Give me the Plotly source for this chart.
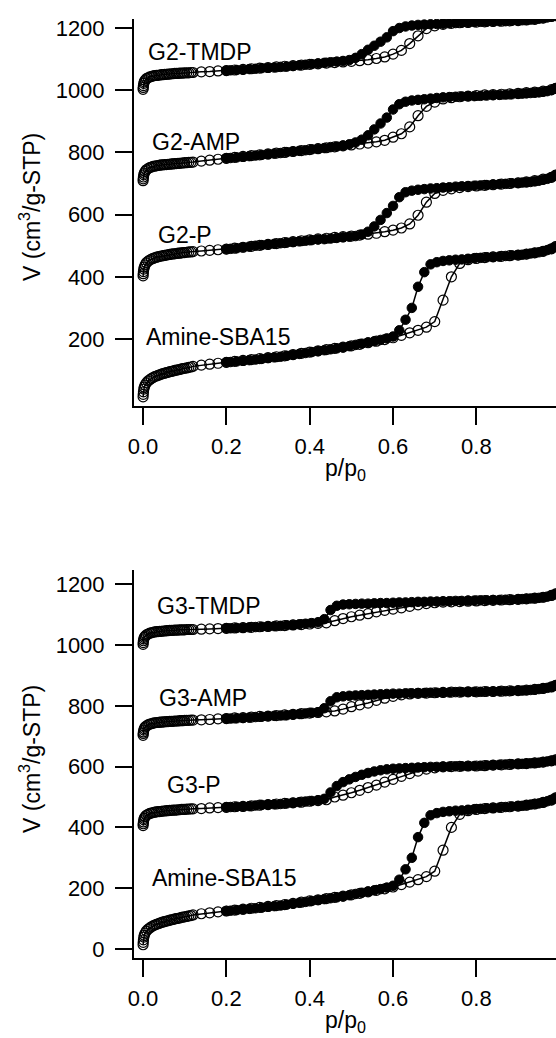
import plotly.graph_objects as go

# ---------------- data ----------------
# relative pressure grids (adsorption ascending, desorption descending)
p_ads = [0.0002, 0.0005, 0.001, 0.002, 0.003, 0.005, 0.008, 0.012, 0.016, 0.020, 0.024, 0.028, 0.032,
         0.036, 0.040, 0.044, 0.048, 0.052, 0.056, 0.060, 0.064, 0.068, 0.072, 0.076, 0.080, 0.084,
         0.088, 0.092, 0.096, 0.100, 0.105, 0.110, 0.115,
         0.12, 0.14, 0.16, 0.18, 0.20, 0.22, 0.24, 0.26, 0.28, 0.30, 0.32,
         0.34, 0.36, 0.38, 0.40, 0.42, 0.44, 0.46, 0.48, 0.50, 0.52, 0.54, 0.56, 0.58, 0.60, 0.62, 0.64,
         0.66, 0.68, 0.70, 0.72, 0.74, 0.76, 0.78, 0.80, 0.82, 0.84, 0.86, 0.88, 0.90, 0.92, 0.94, 0.96,
         0.98, 0.99]
p_des = [0.99, 0.98, 0.97, 0.96, 0.95, 0.94, 0.93, 0.92, 0.91, 0.90, 0.885, 0.87, 0.855, 0.84, 0.825,
         0.81, 0.795, 0.78, 0.765, 0.75, 0.735, 0.72, 0.705, 0.69, 0.675, 0.66, 0.645, 0.63, 0.615, 0.60,
         0.585, 0.57, 0.555, 0.54, 0.525, 0.51, 0.495, 0.48, 0.465, 0.45, 0.435, 0.42, 0.405, 0.39, 0.375,
         0.36, 0.345, 0.33, 0.315, 0.30, 0.285, 0.27, 0.255, 0.24, 0.225, 0.21, 0.20]

amine_ads = [14, 22, 30, 39, 45, 52, 59, 65, 69, 73, 76, 79, 81, 83, 85, 87, 89, 90, 92, 93, 95, 96, 97,
             99, 100, 101, 102, 104, 105, 106, 107, 109, 110,
             112, 116, 119, 122, 125, 128, 131, 134, 137, 140, 143, 146, 150, 154, 158, 162, 166, 170,
             174, 178, 183, 188, 193, 198, 204, 212, 220, 228, 238, 256, 325, 400, 443, 455, 459, 462,
             464, 466, 468, 470, 473, 477, 482, 490, 497]
amine_des = [497, 490, 486, 482, 479, 477, 475, 473, 471, 470,
             469, 467, 465, 464, 463, 461, 460, 458, 456, 455,
             453, 451, 447, 440, 415, 368, 300, 262, 228, 208,
             202, 197, 193, 189, 185, 181, 177, 173, 170, 167,
             164, 161, 158, 155, 152, 149, 146, 143, 141, 139,
             136, 134, 132, 130, 128, 126, 125]

g2p_ads = [403, 410, 417, 425, 431, 438, 445, 450, 454, 457, 459, 461, 463, 464, 466, 467, 468, 469, 470,
           471, 472, 473, 474, 474, 475, 476, 476, 477, 478, 478, 479, 480, 480,
           481, 483, 485, 487, 489, 492, 495, 498, 501, 504, 507, 510, 513, 516, 519, 522, 524, 527, 529,
           531, 534, 537, 540, 545, 550, 557, 570, 598, 640, 668, 678, 683, 687, 690, 692, 694, 696, 698,
           700, 702, 705, 709, 714, 720, 727]
g2p_des = [727, 720, 715, 712, 709, 707, 705, 704, 703, 702,
           701, 699, 698, 697, 695, 694, 693, 692, 691, 690,
           688, 687, 685, 684, 682, 680, 677, 672, 656, 628,
           605, 583, 562, 545, 536, 531, 529, 527, 525, 523,
           521, 520, 518, 516, 514, 512, 510, 508, 506, 504,
           502, 500, 497, 495, 492, 490, 489]

g2amp_ads = [709, 715, 721, 728, 733, 739, 744, 748, 751, 753, 755, 756, 757, 758, 759, 760, 760, 761, 761,
             762, 762, 763, 763, 764, 764, 765, 765, 766, 766, 767, 767, 768, 768,
             769, 772, 775, 778, 781, 784, 787, 790, 792, 795, 798, 800, 803, 806, 809, 812, 815, 818, 821,
             824, 827, 830, 834, 839, 849, 860, 882, 918, 948, 962, 972, 976, 979, 981, 983, 985, 986, 987,
             988, 990, 992, 994, 997, 1002, 1006]
g2amp_des = [1006, 1000, 997, 995, 993, 992, 991, 990, 989, 988,
             987, 986, 985, 984, 983, 982, 981, 981, 980, 979,
             978, 977, 975, 973, 971, 969, 967, 963, 955, 938,
             912, 893, 874, 855, 841, 832, 826, 822, 819, 817,
             814, 812, 810, 807, 805, 803, 801, 798, 796, 794,
             792, 790, 788, 786, 784, 782, 781]

g2tmdp_ads = [1003, 1009, 1015, 1022, 1027, 1032, 1037, 1040, 1043, 1044, 1046, 1047, 1048, 1048, 1049,
              1050, 1050, 1051, 1051, 1052, 1052, 1053, 1053, 1054, 1054, 1054, 1055, 1055, 1055, 1056,
              1056, 1056, 1057,
              1057, 1059, 1060, 1062, 1063, 1065, 1067, 1069, 1071, 1073, 1075,
              1077, 1079, 1081, 1083, 1085, 1087, 1089, 1091, 1093, 1095, 1098, 1102, 1107, 1116, 1128,
              1150, 1175, 1198, 1207, 1212, 1215, 1217, 1218, 1219, 1220, 1221, 1222, 1223, 1224, 1226,
              1228, 1232, 1237, 1240]
g2tmdp_des = [1240, 1237, 1234, 1232, 1230, 1228, 1227, 1226, 1225, 1224,
              1223, 1222, 1222, 1221, 1220, 1220, 1219, 1218, 1217, 1216,
              1215, 1214, 1213, 1212, 1211, 1210, 1208, 1205, 1200, 1190,
              1170, 1156, 1143, 1130, 1116, 1104, 1097, 1094, 1092, 1090,
              1088, 1086, 1084, 1082, 1080, 1078, 1076, 1075, 1073, 1072,
              1071, 1069, 1068, 1066, 1065, 1064, 1063]

g3p_ads = [406, 412, 418, 425, 430, 435, 440, 443, 446, 447, 449, 450, 451, 452, 452, 453, 454, 454, 455,
           455, 456, 456, 457, 457, 457, 458, 458, 459, 459, 459, 460, 460, 461,
           461, 462, 464, 465, 466, 468, 469, 471, 473, 475, 477, 479, 481, 483, 486, 488, 491, 500, 506,
           514, 522, 531, 539, 549, 558, 568, 577, 585, 592, 596, 599, 600, 601, 602, 602, 603, 605, 606,
           607, 609, 610, 612, 615, 619, 622]
g3p_des = [622, 619, 617, 615, 613, 612, 611, 610, 609, 609,
           608, 607, 606, 605, 604, 603, 602, 602, 601, 601,
           600, 600, 599, 599, 598, 597, 596, 595, 594, 593,
           591, 588, 584, 579, 573, 566, 558, 549, 536, 515,
           494, 489, 487, 485, 483, 481, 479, 477, 476, 475,
           474, 472, 470, 469, 468, 467, 466]

g3amp_ads = [703, 709, 714, 720, 725, 730, 734, 737, 740, 741, 743, 744, 745, 745, 746, 746, 747, 747, 748,
             748, 749, 749, 749, 750, 750, 750, 751, 751, 751, 752, 752, 752, 753,
             753, 754, 755, 757, 758, 760, 761, 763, 765, 766, 768, 770, 772, 774, 776, 778, 780, 783, 789,
             797, 803, 809, 818, 825, 831, 836, 839, 841, 842, 843, 844, 845, 845, 846, 846, 847, 847, 848,
             849, 850, 852, 854, 857, 862, 867]
g3amp_des = [867, 862, 859, 857, 855, 853, 852, 851, 850, 850,
             849, 848, 848, 847, 847, 846, 846, 846, 845, 845,
             844, 844, 843, 843, 842, 842, 841, 841, 840, 840,
             839, 838, 837, 836, 835, 834, 833, 831, 828, 815,
             792, 779, 777, 775, 773, 771, 769, 768, 767, 766,
             764, 763, 761, 760, 759, 758, 758]

g3tmdp_ads = [1002, 1008, 1014, 1020, 1025, 1029, 1033, 1036, 1039, 1040, 1042, 1043, 1044, 1044, 1045,
              1045, 1046, 1046, 1047, 1047, 1048, 1048, 1048, 1049, 1049, 1049, 1050, 1050, 1050, 1050,
              1051, 1051, 1051,
              1051, 1052, 1053, 1054, 1055, 1056, 1057, 1058, 1060, 1061, 1063,
              1064, 1066, 1067, 1069, 1071, 1073, 1080, 1087, 1093, 1098, 1103, 1109, 1114, 1118, 1122,
              1127, 1132, 1136, 1139, 1141, 1142, 1143, 1144, 1145, 1146, 1147, 1148, 1149, 1150, 1152,
              1154, 1157, 1163, 1168]
g3tmdp_des = [1168, 1163, 1159, 1157, 1155, 1154, 1153, 1152, 1151, 1150,
              1149, 1149, 1148, 1148, 1147, 1147, 1146, 1146, 1145, 1145,
              1144, 1144, 1143, 1143, 1142, 1142, 1141, 1140, 1140, 1139,
              1138, 1138, 1137, 1136, 1136, 1135, 1134, 1133, 1129, 1115,
              1085, 1075, 1072, 1070, 1068, 1066, 1065, 1063, 1062, 1061,
              1060, 1059, 1058, 1057, 1056, 1055, 1055]

x_ticks = [0.0, 0.2, 0.4, 0.6, 0.8]
x_ticklabels = ["0.0", "0.2", "0.4", "0.6", "0.8"]
y_ticks_top = [200, 400, 600, 800, 1000, 1200]
y_ticks_bottom = [0, 200, 400, 600, 800, 1000, 1200]

top_samples = [("Amine-SBA15", amine_ads, amine_des), ("G2-P", g2p_ads, g2p_des),
               ("G2-AMP", g2amp_ads, g2amp_des), ("G2-TMDP", g2tmdp_ads, g2tmdp_des)]
bottom_samples = [("Amine-SBA15", amine_ads, amine_des), ("G3-P", g3p_ads, g3p_des),
                  ("G3-AMP", g3amp_ads, g3amp_des), ("G3-TMDP", g3tmdp_ads, g3tmdp_des)]

# label anchor positions (p/p0, V)
top_labels = [("G2-TMDP", 0.0065, 1124), ("G2-AMP", 0.017, 834), ("G2-P", 0.031, 533),
              ("Amine-SBA15", 0.0024, 205)]
bottom_labels = [("G3-TMDP", 0.029, 1127), ("G3-AMP", 0.034, 826), ("G3-P", 0.053, 539),
                 ("Amine-SBA15", 0.0168, 235)]

# ---------------- figure ----------------
W, H = 556, 1038
ML = 134
FONT = "Liberation Sans, Arial, Helvetica, sans-serif"

fig = go.Figure()


def add_isotherm(ads, des, xa, ya):
    fig.add_trace(go.Scatter(
        x=p_ads, y=ads, mode="lines+markers", xaxis=xa, yaxis=ya,
        line=dict(color="black", width=1.5),
        marker=dict(symbol="circle-open", size=10, color="black", line=dict(width=1.2)),
        showlegend=False, hoverinfo="skip"))
    fig.add_trace(go.Scatter(
        x=p_des, y=des, mode="lines+markers", xaxis=xa, yaxis=ya,
        line=dict(color="black", width=1.5),
        marker=dict(symbol="circle", size=9.5, color="black", line=dict(color="black", width=1)),
        showlegend=False, hoverinfo="skip"))


for name, a, d in top_samples:
    add_isotherm(a, d, "x", "y")
for name, a, d in bottom_samples:
    add_isotherm(a, d, "x2", "y2")

ax_common = dict(showline=True, linecolor="black", linewidth=2, ticks="outside", ticklen=17,
                 tickwidth=2, tickcolor="black", showgrid=False, zeroline=False, automargin=False,
                 tickfont=dict(family=FONT, size=22, color="black"), mirror=False)


def ydom(top_px, bot_px):
    return [1 - bot_px / H, 1 - top_px / H]


fig.update_layout(
    width=W, height=H, template="none",
    margin=dict(l=ML, r=0, t=0, b=0),
    paper_bgcolor="white", plot_bgcolor="white",
    font=dict(family=FONT, size=22, color="black"),
    xaxis=dict(ax_common, domain=[0, 1], anchor="y", range=[-0.0216, 0.991],
               tickvals=x_ticks, ticktext=x_ticklabels, ticklabelstandoff=3),
    yaxis=dict(ax_common, domain=ydom(19, 406), anchor="x", range=[-15.4, 1229],
               tickvals=y_ticks_top, ticklabelstandoff=6),
    xaxis2=dict(ax_common, domain=[0, 1], anchor="y2", range=[-0.0216, 0.991],
                tickvals=x_ticks, ticktext=x_ticklabels, ticklabelstandoff=3),
    yaxis2=dict(ax_common, domain=ydom(570, 958), anchor="x2", range=[-29.6, 1246.7],
                tickvals=y_ticks_bottom, ticklabelstandoff=6),
)

ann = []
for text, px, v in top_labels:
    ann.append(dict(text=text, x=px, y=v, xref="x", yref="y", xanchor="left", yanchor="middle",
                    showarrow=False, font=dict(family=FONT, size=23, color="black")))
for text, px, v in bottom_labels:
    ann.append(dict(text=text, x=px, y=v, xref="x2", yref="y2", xanchor="left", yanchor="middle",
                    showarrow=False, font=dict(family=FONT, size=23, color="black")))

PW = W - ML
ytitle = "V (cm<sup>3</sup>/g-STP)"
for cy in (207, 759):
    ann.append(dict(text=ytitle, x=(30 - ML) / PW, y=1 - cy / H, xref="paper", yref="paper",
                    xanchor="center", yanchor="middle", textangle=-90, showarrow=False,
                    font=dict(family=FONT, size=23, color="black")))
for by in (486, 1038):
    ann.append(dict(text="p/p<sub>0</sub>", x=0.5, y=1 - by / H, xref="paper", yref="paper",
                    xanchor="center", yanchor="bottom", showarrow=False,
                    font=dict(family=FONT, size=23, color="black")))

fig.update_layout(annotations=ann)
fig.write_html("out.html", config={"displayModeBar": False},
               post_script="document.body.style.margin='0';")
